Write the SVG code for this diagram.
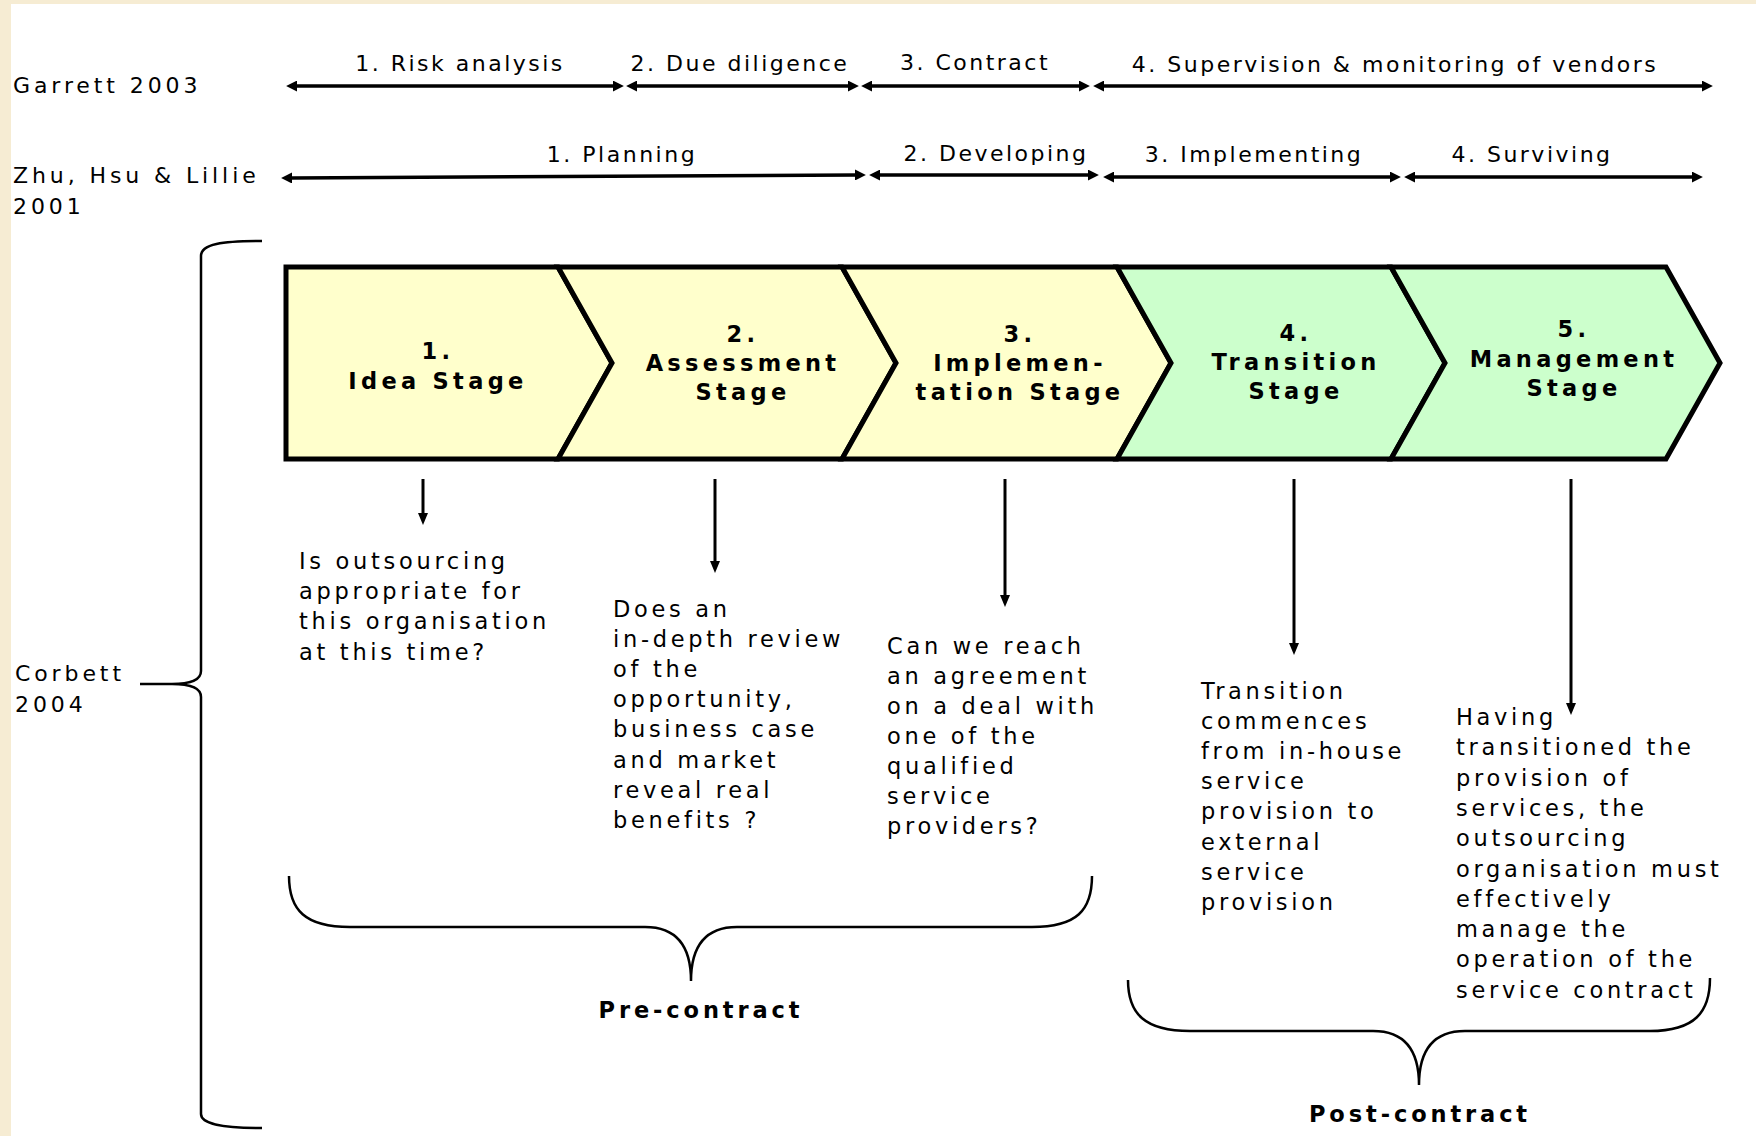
<svg xmlns="http://www.w3.org/2000/svg" width="1756" height="1136" viewBox="0 0 1756 1136">
<defs>
<style>
text{font-family:"DejaVu Sans","Verdana",sans-serif;fill:#000}
.lbl{font-size:22px;letter-spacing:3.9px}
.arl{font-size:22px;letter-spacing:2.5px;text-anchor:middle}
.stg{font-size:22.5px;font-weight:bold;letter-spacing:4.3px;text-anchor:middle}
.desc{font-size:22.5px;letter-spacing:3.7px}
.phase{font-size:22.5px;font-weight:bold;letter-spacing:3.9px;text-anchor:middle}
.yel{fill:#FFFFCC;stroke:#000;stroke-width:5;stroke-linejoin:miter}
.grn{fill:#CCFFCC;stroke:#000;stroke-width:5;stroke-linejoin:miter}
.harr{stroke:#000;stroke-width:3.5;fill:none;marker-start:url(#ah);marker-end:url(#ah)}
.varr{stroke:#000;stroke-width:3;fill:none;marker-end:url(#ahd)}
.brace{stroke:#000;stroke-width:2.5;fill:none}
</style>
<marker id="ah" viewBox="0 0 10 10" refX="1" refY="5" markerWidth="11" markerHeight="11" markerUnits="userSpaceOnUse" orient="auto-start-reverse"><path d="M0,0 L10,5 L0,10 z" fill="#000"/></marker>
<marker id="ahd" viewBox="0 0 12 10" refX="1" refY="5" markerWidth="12" markerHeight="10" markerUnits="userSpaceOnUse" orient="auto"><path d="M0,0 L12,5 L0,10 z" fill="#000"/></marker>
</defs>
<rect x="0" y="0" width="1756" height="1136" fill="#FFFFFF"/>
<rect x="0" y="0" width="11" height="1136" fill="#F6ECD3"/>
<rect x="0" y="0" width="1756" height="4" fill="#F6ECD3"/>

<g id="row-labels">
<text class="lbl" x="13" y="93">Garrett 2003</text>
<text class="lbl" x="13" y="183">Zhu, Hsu &amp; Lillie</text>
<text class="lbl" x="13" y="214">2001</text>
<text class="lbl" x="15" y="681">Corbett</text>
<text class="lbl" x="15" y="712">2004</text>
</g>

<g id="garrett-labels">
<text class="arl" x="460" y="71">1. Risk analysis</text>
<text class="arl" x="740" y="71">2. Due diligence</text>
<text class="arl" x="975" y="70">3. Contract</text>
<text class="arl" x="1395" y="72">4. Supervision &amp; monitoring of vendors</text>
</g>
<g id="zhu-labels">
<text class="arl" x="622" y="162">1. Planning</text>
<text class="arl" x="996" y="161">2. Developing</text>
<text class="arl" x="1254" y="162">3. Implementing</text>
<text class="arl" x="1532" y="162">4. Surviving</text>
</g>

<g id="stage1">
<path class="yel" d="M286,267 L558,267 L612,363 L558,459 L286,459 Z"/>
<text class="stg" x="438" y="359">1.</text>
<text class="stg" x="438" y="389">Idea Stage</text>
</g>
<g id="stage2">
<path class="yel" d="M558,267 L842,267 L896,363 L842,459 L558,459 L612,363 Z"/>
<text class="stg" x="743" y="342">2.</text>
<text class="stg" x="743" y="371">Assessment</text>
<text class="stg" x="743" y="400">Stage</text>
</g>
<g id="stage3">
<path class="yel" d="M842,267 L1117,267 L1171,363 L1117,459 L842,459 L896,363 Z"/>
<text class="stg" x="1020" y="342">3.</text>
<text class="stg" x="1020" y="371">Implemen-</text>
<text class="stg" x="1020" y="400">tation Stage</text>
</g>
<g id="stage4">
<path class="grn" d="M1117,267 L1391,267 L1445,363 L1391,459 L1117,459 L1171,363 Z"/>
<text class="stg" x="1296" y="341">4.</text>
<text class="stg" x="1296" y="370">Transition</text>
<text class="stg" x="1296" y="399">Stage</text>
</g>
<g id="stage5">
<path class="grn" d="M1391,267 L1666,267 L1720,363 L1666,459 L1391,459 L1445,363 Z"/>
<text class="stg" x="1574" y="337">5.</text>
<text class="stg" x="1574" y="367">Management</text>
<text class="stg" x="1574" y="396">Stage</text>
</g>

<g id="desc1">
<text class="desc" x="299" y="569"><tspan x="299">Is outsourcing</tspan><tspan x="299" dy="30.2">appropriate for</tspan><tspan x="299" dy="30.2">this organisation</tspan><tspan x="299" dy="30.2">at this time?</tspan></text>
</g>
<g id="desc2">
<text class="desc" x="613" y="617"><tspan x="613">Does an</tspan><tspan x="613" dy="30.1">in-depth review</tspan><tspan x="613" dy="30.1">of the</tspan><tspan x="613" dy="30.1">opportunity,</tspan><tspan x="613" dy="30.1">business case</tspan><tspan x="613" dy="30.1">and market</tspan><tspan x="613" dy="30.1">reveal real</tspan><tspan x="613" dy="30.1">benefits ?</tspan></text>
</g>
<g id="desc3">
<text class="desc" x="887" y="654"><tspan x="887">Can we reach</tspan><tspan x="887" dy="30">an agreement</tspan><tspan x="887" dy="30">on a deal with</tspan><tspan x="887" dy="30">one of the</tspan><tspan x="887" dy="30">qualified</tspan><tspan x="887" dy="30">service</tspan><tspan x="887" dy="30">providers?</tspan></text>
</g>
<g id="desc4">
<text class="desc" x="1201" y="699"><tspan x="1201">Transition</tspan><tspan x="1201" dy="30.1">commences</tspan><tspan x="1201" dy="30.1">from in-house</tspan><tspan x="1201" dy="30.1">service</tspan><tspan x="1201" dy="30.1">provision to</tspan><tspan x="1201" dy="30.1">external</tspan><tspan x="1201" dy="30.1">service</tspan><tspan x="1201" dy="30.1">provision</tspan></text>
</g>
<g id="desc5">
<text class="desc" x="1456" y="725"><tspan x="1456">Having</tspan><tspan x="1456" dy="30.3">transitioned the</tspan><tspan x="1456" dy="30.3">provision of</tspan><tspan x="1456" dy="30.3">services, the</tspan><tspan x="1456" dy="30.3">outsourcing</tspan><tspan x="1456" dy="30.3">organisation must</tspan><tspan x="1456" dy="30.3">effectively</tspan><tspan x="1456" dy="30.3">manage the</tspan><tspan x="1456" dy="30.3">operation of the</tspan><tspan x="1456" dy="30.3">service contract</tspan></text>
</g>

<g id="pre-contract">
<path class="brace" d="M289,876 C289,910 305,927 350,927 L645,927 C678,927 691,948 691,981 C691,948 704,927 737,927 L1032,927 C1077,927 1092,910 1092,876"/>
<text class="phase" x="701" y="1018">Pre-contract</text>
</g>
<g id="post-contract">
<path class="brace" d="M1128,980 C1128,1014 1145,1031 1190,1031 L1373,1031 C1406,1031 1419,1052 1419,1085 C1419,1052 1432,1031 1465,1031 L1650,1031 C1695,1031 1710,1012 1710,978"/>
<text class="phase" x="1420" y="1122">Post-contract</text>
</g>
<g id="corbett-brace">
<path class="brace" stroke-width="2" d="M262,241 C222,241 201,244 201,256 L201,671 C201,680 190,684 172,684 L140,684 M140,684 L172,684 C190,684 201,688 201,697 L201,1114 C201,1124 222,1128 262,1128"/>
</g>

<g id="connectors">
<line class="harr" x1="296" y1="86" x2="614" y2="86"/>
<line class="harr" x1="636" y1="86" x2="849" y2="86"/>
<line class="harr" x1="871" y1="86" x2="1080" y2="86"/>
<line class="harr" x1="1103" y1="86" x2="1703" y2="86"/>
<line class="harr" x1="291" y1="178" x2="856" y2="175"/>
<line class="harr" x1="879" y1="175" x2="1089" y2="175"/>
<line class="harr" x1="1113" y1="177" x2="1391" y2="177"/>
<line class="harr" x1="1414" y1="177" x2="1693" y2="177"/>
<line class="varr" x1="423" y1="479" x2="423" y2="514"/>
<line class="varr" x1="715" y1="479" x2="715" y2="562"/>
<line class="varr" x1="1005" y1="479" x2="1005" y2="596"/>
<line class="varr" x1="1294" y1="479" x2="1294" y2="644"/>
<line class="varr" x1="1571" y1="479" x2="1571" y2="704"/>
</g>
</svg>
